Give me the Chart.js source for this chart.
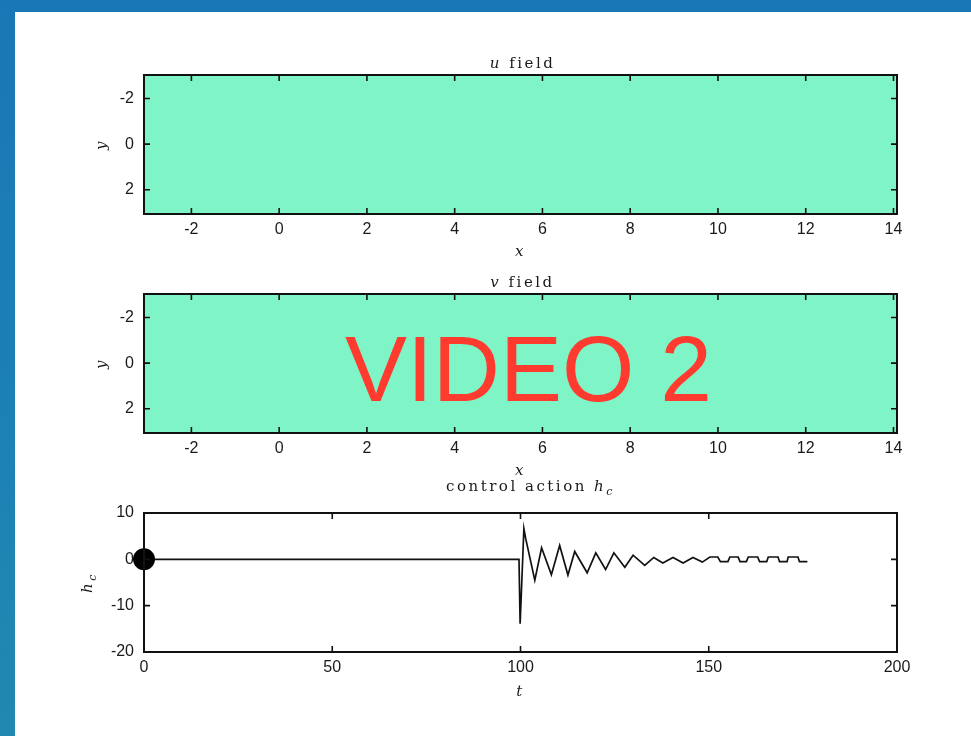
<!DOCTYPE html>
<html>
<head>
<meta charset="utf-8">
<script src="https://cdn.jsdelivr.net/npm/chart.js@4.4.1/dist/chart.umd.min.js"></script>
<style>
  html, body { margin: 0; padding: 0; }
  body {
    width: 971px; height: 736px; overflow: hidden; position: relative;
    background: linear-gradient(180deg, #1a77b5 0%, #1b7fb6 45%, #2188b0 100%);
  }
  #panel { position: absolute; left: 15px; top: 12px; right: 0; bottom: 0; background: #ffffff; }
  canvas { position: absolute; left: 0; top: 0; }
  #stamp {
    position: absolute; left: 345px; top: 323px;
    font-family: "Liberation Sans", Arial, sans-serif; font-size: 93px; line-height: 93px;
    color: #ff3b30; white-space: nowrap; pointer-events: none;
  }
</style>
</head>
<body>
<div id="panel"></div>
<canvas id="uField" width="971" height="736"></canvas>
<canvas id="vField" width="971" height="736"></canvas>
<canvas id="control" width="971" height="736"></canvas>
<div id="stamp">VIDEO 2</div>
<script>
// Spatial domain of the u and v fields
const fieldXRange = [-3.08, 14.08];
const fieldYRange = [-3.03, 3.06];
const fieldXTicks = [-2, 0, 2, 4, 6, 8, 10, 12, 14];
const fieldYTicks = [-2, 0, 2];

// Control action history
const timeRange = [0, 200];
const hcRange = [-20, 10];
const timeTicks = [0, 50, 100, 150, 200];
const hcTicks = [-20, -10, 0, 10];
const controlT = [0, 99.6, 99.9, 100.2, 100.9, 101.4, 103.8, 105.6, 108.2, 110.4, 112.6, 114.4, 117.7,
  120.0, 122.6, 124.8, 127.7, 129.9, 133.0, 135.4, 137.8, 140.5, 143.2, 145.8, 148.3,
  150.3, 152.4, 153.1, 155.1, 155.6, 157.8, 158.3, 160.0, 160.5, 163.0, 163.5, 165.4,
  165.8, 168.4, 168.8, 170.8, 171.1, 173.7, 174.1, 176.2];
const controlH = [0, 0, -13.9, -7.8, 6.6, 4.4, -4.5, 2.5, -3.3, 3.0, -3.4, 1.7, -2.9,
  1.4, -2.2, 1.4, -1.7, 0.9, -1.3, 0.4, -0.8, 0.4, -0.8, 0.4, -0.6,
  0.5, 0.5, -0.5, -0.5, 0.5, 0.5, -0.5, -0.5, 0.5, 0.5, -0.5, -0.5,
  0.5, 0.5, -0.5, -0.5, 0.5, 0.5, -0.5, -0.5];
// Current time marker
const markerT = [0];
const markerH = [0];

const FIELD_COLOR = '#7ff5c7';
const INK = '#111111';
const TICK_FONT = { family: '"Liberation Sans", Arial, sans-serif', size: 16 };
const SERIF = '"DejaVu Serif", "Liberation Serif", serif';

// Draws a run of text pieces (some italic, some subscript) centred on cx
function drawRich(ctx, parts, cx, baseline) {
  ctx.save();
  ctx.letterSpacing = '2.5px';
  ctx.textBaseline = 'alphabetic';
  ctx.textAlign = 'left';
  const fontOf = p => (p.it ? 'italic ' : '') + (p.sub ? '11px ' : '15px ') + SERIF;
  let total = 0;
  parts.forEach(p => { ctx.font = fontOf(p); total += ctx.measureText(p.t).width; });
  let x = cx - total / 2;
  parts.forEach(p => {
    ctx.font = fontOf(p);
    ctx.fillText(p.t, x, baseline + (p.sub ? 4 : 0));
    x += ctx.measureText(p.t).width;
  });
  ctx.restore();
}

const framePlugin = {
  id: 'frame',
  beforeDatasetsDraw(chart, args, opts) {
    if (!opts.fill) return;
    const { ctx, scales: { x, y } } = chart;
    const x0 = x.getPixelForValue(opts.domainX[0]), x1 = x.getPixelForValue(opts.domainX[1]);
    const y0 = y.getPixelForValue(opts.domainY[0]), y1 = y.getPixelForValue(opts.domainY[1]);
    ctx.save();
    ctx.fillStyle = opts.fill;
    ctx.fillRect(Math.min(x0, x1), Math.min(y0, y1), Math.abs(x1 - x0), Math.abs(y1 - y0));
    ctx.restore();
  },
  afterDraw(chart, args, opts) {
    const { ctx, chartArea: a, scales: { x, y } } = chart;
    ctx.save();
    ctx.strokeStyle = INK;
    ctx.fillStyle = '#1a1a1a';
    // inward tick marks on all four sides
    ctx.lineWidth = 1.6;
    const len = 6;
    ctx.beginPath();
    x.ticks.forEach(t => {
      const px = x.getPixelForValue(t.value);
      ctx.moveTo(px, a.bottom); ctx.lineTo(px, a.bottom - len);
      ctx.moveTo(px, a.top); ctx.lineTo(px, a.top + len);
    });
    y.ticks.forEach(t => {
      const py = y.getPixelForValue(t.value);
      ctx.moveTo(a.left, py); ctx.lineTo(a.left + len, py);
      ctx.moveTo(a.right, py); ctx.lineTo(a.right - len, py);
    });
    ctx.stroke();
    // axes box
    ctx.lineWidth = 2;
    ctx.strokeRect(a.left, a.top, a.right - a.left, a.bottom - a.top);
    // title and axis labels
    const cx = (a.left + a.right) / 2 + 2;
    drawRich(ctx, opts.title, cx + (opts.titleShift || 0), a.top - opts.titleGap);
    drawRich(ctx, opts.xLabel, cx - 2, a.bottom + opts.xLabelGap);
    ctx.translate(a.left - opts.yLabelGap, (a.top + a.bottom) / 2);
    ctx.rotate(-Math.PI / 2);
    drawRich(ctx, opts.yLabel, 0, 0);
    ctx.restore();
  }
};

function axis(range, ticks, extra) {
  return Object.assign({
    type: 'linear',
    min: range[0], max: range[1],
    afterBuildTicks: s => { s.ticks = ticks.map(v => ({ value: v })); },
    grid: { display: false, drawTicks: false },
    border: { display: false },
    ticks: { font: TICK_FONT, color: '#1a1a1a', autoSkip: false, maxRotation: 0, callback: v => String(v) }
  }, extra);
}

function xAxis(range, ticks) {
  const a = axis(range, ticks, { position: 'bottom', afterFit: s => { s.height = 40; } });
  a.ticks.padding = 6;
  return a;
}
function yAxis(range, ticks, reverse) {
  const a = axis(range, ticks, { position: 'left', reverse: reverse, afterFit: s => { s.width = 60; } });
  a.ticks.padding = 10;
  return a;
}

function fieldChart(id, top, name) {
  return new Chart(document.getElementById(id), {
    type: 'scatter',
    data: { datasets: [] },
    options: {
      responsive: false, animation: false, devicePixelRatio: 1,
      layout: { padding: { left: 84, right: 74, top: top, bottom: 736 - (top + 139) - 40 } },
      plugins: {
        legend: { display: false }, tooltip: { enabled: false },
        frame: {
          fill: FIELD_COLOR, domainX: fieldXRange, domainY: fieldYRange,
          title: [{ t: name, it: true }, { t: ' field' }], titleGap: 7,
          xLabel: [{ t: 'x', it: true }], xLabelGap: 42,
          yLabel: [{ t: 'y', it: true }], yLabelGap: 38
        }
      },
      scales: { x: xAxis(fieldXRange, fieldXTicks), y: yAxis(fieldYRange, fieldYTicks, true) }
    },
    plugins: [framePlugin]
  });
}

fieldChart('uField', 75, 'u');
fieldChart('vField', 294, 'v');

new Chart(document.getElementById('control'), {
  type: 'line',
  data: {
    datasets: [
      {
        type: 'scatter',
        data: markerT.map((t, i) => ({ x: t, y: markerH[i] })),
        pointRadius: 11, pointBackgroundColor: '#000', pointBorderWidth: 0,
        clip: false, order: 0
      },
      {
        data: controlT.map((t, i) => ({ x: t, y: controlH[i] })),
        borderColor: INK, borderWidth: 1.7, pointRadius: 0, tension: 0, fill: false, order: 1
      }
    ]
  },
  options: {
    responsive: false, animation: false, devicePixelRatio: 1,
    layout: { padding: { left: 84, right: 74, top: 513, bottom: 736 - 652 - 40 } },
    plugins: {
      legend: { display: false }, tooltip: { enabled: false },
      frame: {
        title: [{ t: 'control action ' }, { t: 'h', it: true }, { t: 'c', it: true, sub: true }],
        titleGap: 22, titleShift: 8,
        xLabel: [{ t: 't', it: true }], xLabelGap: 44,
        yLabel: [{ t: 'h', it: true }, { t: 'c', it: true, sub: true }], yLabelGap: 52
      }
    },
    scales: { x: xAxis(timeRange, timeTicks), y: yAxis(hcRange, hcTicks, false) }
  },
  plugins: [framePlugin]
});
</script>
</body>
</html>
